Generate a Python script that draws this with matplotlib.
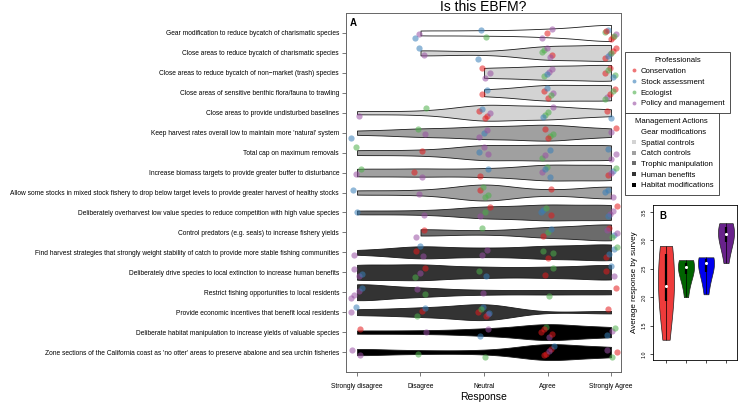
import numpy as np
import matplotlib
matplotlib.use('Agg')
import matplotlib.pyplot as plt
from matplotlib.lines import Line2D

plt.rcParams['font.family'] = ['Liberation Sans', 'DejaVu Sans']

W, H = 740, 404

actions = [
    "Gear modification to reduce bycatch of charismatic species",
    "Close areas to reduce bycatch of charismatic species",
    "Close areas to reduce bycatch of non\u2212market (trash) species",
    "Close areas of sensitive benthic flora/fauna to trawling",
    "Close areas to provide undisturbed baselines",
    "Keep harvest rates overall low to maintain more 'natural' system",
    "Total cap on maximum removals",
    "Increase biomass targets to provide greater buffer to disturbance",
    "Allow some stocks in mixed stock fishery to drop below target levels to provide greater harvest of healthy stocks",
    "Deliberately overharvest low value species to reduce competition with high value species",
    "Control predators (e.g. seals) to increase fishery yields",
    "Find harvest strategies that strongly weight stability of catch to provide more stable fishing communities",
    "Deliberately drive species to local extinction to increase human benefits",
    "Restrict fishing opportunities to local residents",
    "Provide economic incentives that benefit local residents",
    "Deliberate habitat manipulation to increase yields of valuable species",
    "Zone sections of the California coast as 'no otter' areas to preserve abalone and sea urchin fisheries",
]
action_group = [0, 1, 1, 1, 1, 2, 2, 2, 2, 3, 3, 4, 4, 4, 4, 5, 5]
group_names = ["Gear modifications", "Spatial controls", "Catch controls",
               "Trophic manipulation", "Human benefits", "Habitat modifications"]
group_colors = ['#FFFFFF', '#D3D3D3', '#A0A0A0', '#6B6B6B', '#333333', '#000000']

response_labels = ["Strongly disagree", "Disagree", "Neutral", "Agree", "Strongly Agree"]

professions = ["Conservation", "Stock assessment", "Ecologist", "Policy and management"]
prof_codes = "RBGP"
prof_colors = ['#E41A1C', '#377EB8', '#4DAF4A', '#984EA3']

# respondents per action at each response level (SD, D, N, A, SA), coded by profession
responses = [
    ["", "PB", "GB", "PRP", "GRBPRRG"],
    ["", "PB", "B", "GRPGP", "PRRBRG"],
    ["", "", "RPP", "PGPB", "GRRBG"],
    ["", "", "BR", "PRRGB", "PRRGG"],
    ["P", "G", "RRBPR", "GPGB", "BR"],
    ["B", "GP", "BPP", "GRGR", "RP"],
    ["G", "R", "PPB", "GBP", "BPP"],
    ["GP", "RP", "RB", "GPBB", "BRGP"],
    ["B", "P", "GRGG", "R", "BPB"],
    ["B", "P", "RGP", "BRGB", "PRPB"],
    ["", "PR", "G", "GRB", "BRPGP"],
    ["P", "BRP", "PP", "GRG", "RBBG"],
    ["PPB", "RPG", "GB", "RG", "BRP"],
    ["PPPB", "PG", "P", "G", "R"],
    ["BP", "RGB", "PBRRGB", "", "R"],
    ["R", "P", "BP", "GRPRR", "PBG"],
    ["PP", "G", "G", "RRBPR", "RGP"],
]

# Panel B: average response by survey
b_conservation = [1.25, 1.7, 1.9, 2.0, 2.1, 2.3, 2.6, 2.8, 2.85, 2.9]
b_ecologist = [2.0, 2.3, 2.45, 2.5, 2.55, 2.6, 2.62, 2.65]
b_stock = [2.05, 2.3, 2.5, 2.58, 2.62, 2.66, 2.7, 2.7]
b_policy = [2.6, 2.9, 3.0, 3.07, 3.15, 3.22, 3.28, 3.3]
b_colors = ['#EE3B3B', '#006400', '#0000EE', '#68228B']

fig = plt.figure(figsize=(W / 100, H / 100), dpi=100)

def px_axes(l, t, r, b):
    return fig.add_axes([l / W, 1 - b / H, (r - l) / W, (b - t) / H])

# ---------------- Panel A ----------------
ax = px_axes(346, 13, 621, 372)

datasets = []
for row in responses:
    vals = []
    for lvl, s in enumerate(row, start=1):
        vals += [lvl] * len(s)
    datasets.append(np.array(vals, dtype=float))

positions = np.arange(1, len(actions) + 1)
bw = lambda kde: 0.48 / np.std(kde.dataset, ddof=1)
parts = ax.violinplot(datasets, positions=positions, orientation='horizontal',
                      widths=0.8, showextrema=False, bw_method=bw, points=300)
for i, body in enumerate(parts['bodies']):
    body.set_facecolor(group_colors[action_group[i]])
    body.set_edgecolor('#1a1a1a')
    body.set_linewidth(0.6)
    body.set_alpha(1)

# points (deterministic jitter pattern)
for i, row in enumerate(responses):
    for lvl, s in enumerate(row, start=1):
        for k, c in enumerate(s):
            dx = (((k * 0.618 + i * 0.37 + lvl * 0.21) % 1.0) - 0.5) * 0.2
            dy = (((k * 0.382 + lvl * 0.29 + i * 0.13) % 1.0) - 0.5) * 0.6
            ax.scatter(lvl + dx, positions[i] + dy, s=20,
                       color=prof_colors[prof_codes.index(c)], alpha=0.55,
                       linewidths=0, zorder=3)

ax.set_xlim(0.827, 5.157)
ax.set_ylim(18, 0)
ax.set_xticks(range(1, 6))
ax.set_xticklabels(response_labels)
ax.set_yticks(positions)
ax.set_yticklabels(actions)
ax.tick_params(axis='both', labelsize=4.8, length=3, width=0.5, color='#444444', pad=2)
ax.tick_params(axis='x', pad=5)
for sp in ax.spines.values():
    sp.set_color('#666666')
    sp.set_linewidth(0.7)
fig.text(483.5 / W, 1 - 397 / H, "Response", ha='center', va='center', fontsize=7.5)
ax.text(0.015, 0.985, "A", transform=ax.transAxes, fontsize=7, fontweight='bold',
        ha='left', va='top')
fig.text(483.5 / W, 1 - 7 / H, "Is this EBFM?", ha='center', va='center', fontsize=10)

# ---------------- Legends ----------------
h1 = [Line2D([], [], marker='o', linestyle='', markersize=2.8, color=c, alpha=0.6,
             markeredgewidth=0) for c in prof_colors]
leg_kw = dict(loc='upper left', borderaxespad=0, fontsize=5.6, title_fontsize=5.6,
              frameon=True, fancybox=False, handlelength=0.8, handletextpad=0.5,
              labelspacing=0.42, borderpad=0.7, framealpha=1)
leg1 = fig.legend(h1, professions, bbox_to_anchor=(625 / W, 1 - 52 / H),
                  title="Professionals", **leg_kw)
leg1.get_frame().set_edgecolor('#333333')
leg1.get_frame().set_linewidth(0.6)

fig.canvas.draw()
bb1 = leg1.get_window_extent()
h2 = [Line2D([], [], marker='s', linestyle='', markersize=2.6, color=c,
             markeredgewidth=0) for c in group_colors]
leg2 = fig.legend(h2, group_names, bbox_to_anchor=(625 / W, bb1.y0 / fig.bbox.height),
                  title="Management Actions", **leg_kw)
leg2.get_frame().set_edgecolor('#333333')
leg2.get_frame().set_linewidth(0.6)

# ---------------- Panel B ----------------
bx = px_axes(653, 205, 737, 360)
b_data = [b_conservation, b_ecologist, b_stock, b_policy]
bparts = bx.violinplot(b_data, positions=[1, 2, 3, 4], widths=0.8, showextrema=False,
                       bw_method=1.0)
for body, c in zip(bparts['bodies'], b_colors):
    body.set_facecolor(c)
    body.set_edgecolor('#222222')
    body.set_linewidth(0.5)
    body.set_alpha(1)
for p, d in zip([1, 2, 3, 4], b_data):
    q1, med, q3 = np.percentile(d, [25, 50, 75])
    bx.vlines(p, min(d), max(d), color='black', linewidth=0.5, zorder=3)
    bx.vlines(p, q1, q3, color='black', linewidth=1.6, zorder=3)
    bx.scatter([p], [med], s=5, color='white', zorder=4, linewidths=0)
bx.set_xlim(0.35, 4.55)
bx.set_ylim(0.894, 3.62)
bx.set_xticks([1, 2, 3, 4])
bx.set_xticklabels([])
bx.set_yticks([1.0, 1.5, 2.0, 2.5, 3.0, 3.5])
bx.set_yticklabels(['1.0', '1.5', '2.0', '2.5', '3.0', '3.5'], rotation=90, va='center')
bx.tick_params(axis='both', labelsize=3.8, length=2.5, width=0.5, pad=2)
for sp in bx.spines.values():
    sp.set_linewidth(0.6)
bx.set_ylabel("Average response by survey", fontsize=5.8, labelpad=3)
bx.text(0.08, 0.96, "B", transform=bx.transAxes, fontsize=7, fontweight='bold',
        ha='left', va='top')

fig.savefig("out.png", dpi=100)
